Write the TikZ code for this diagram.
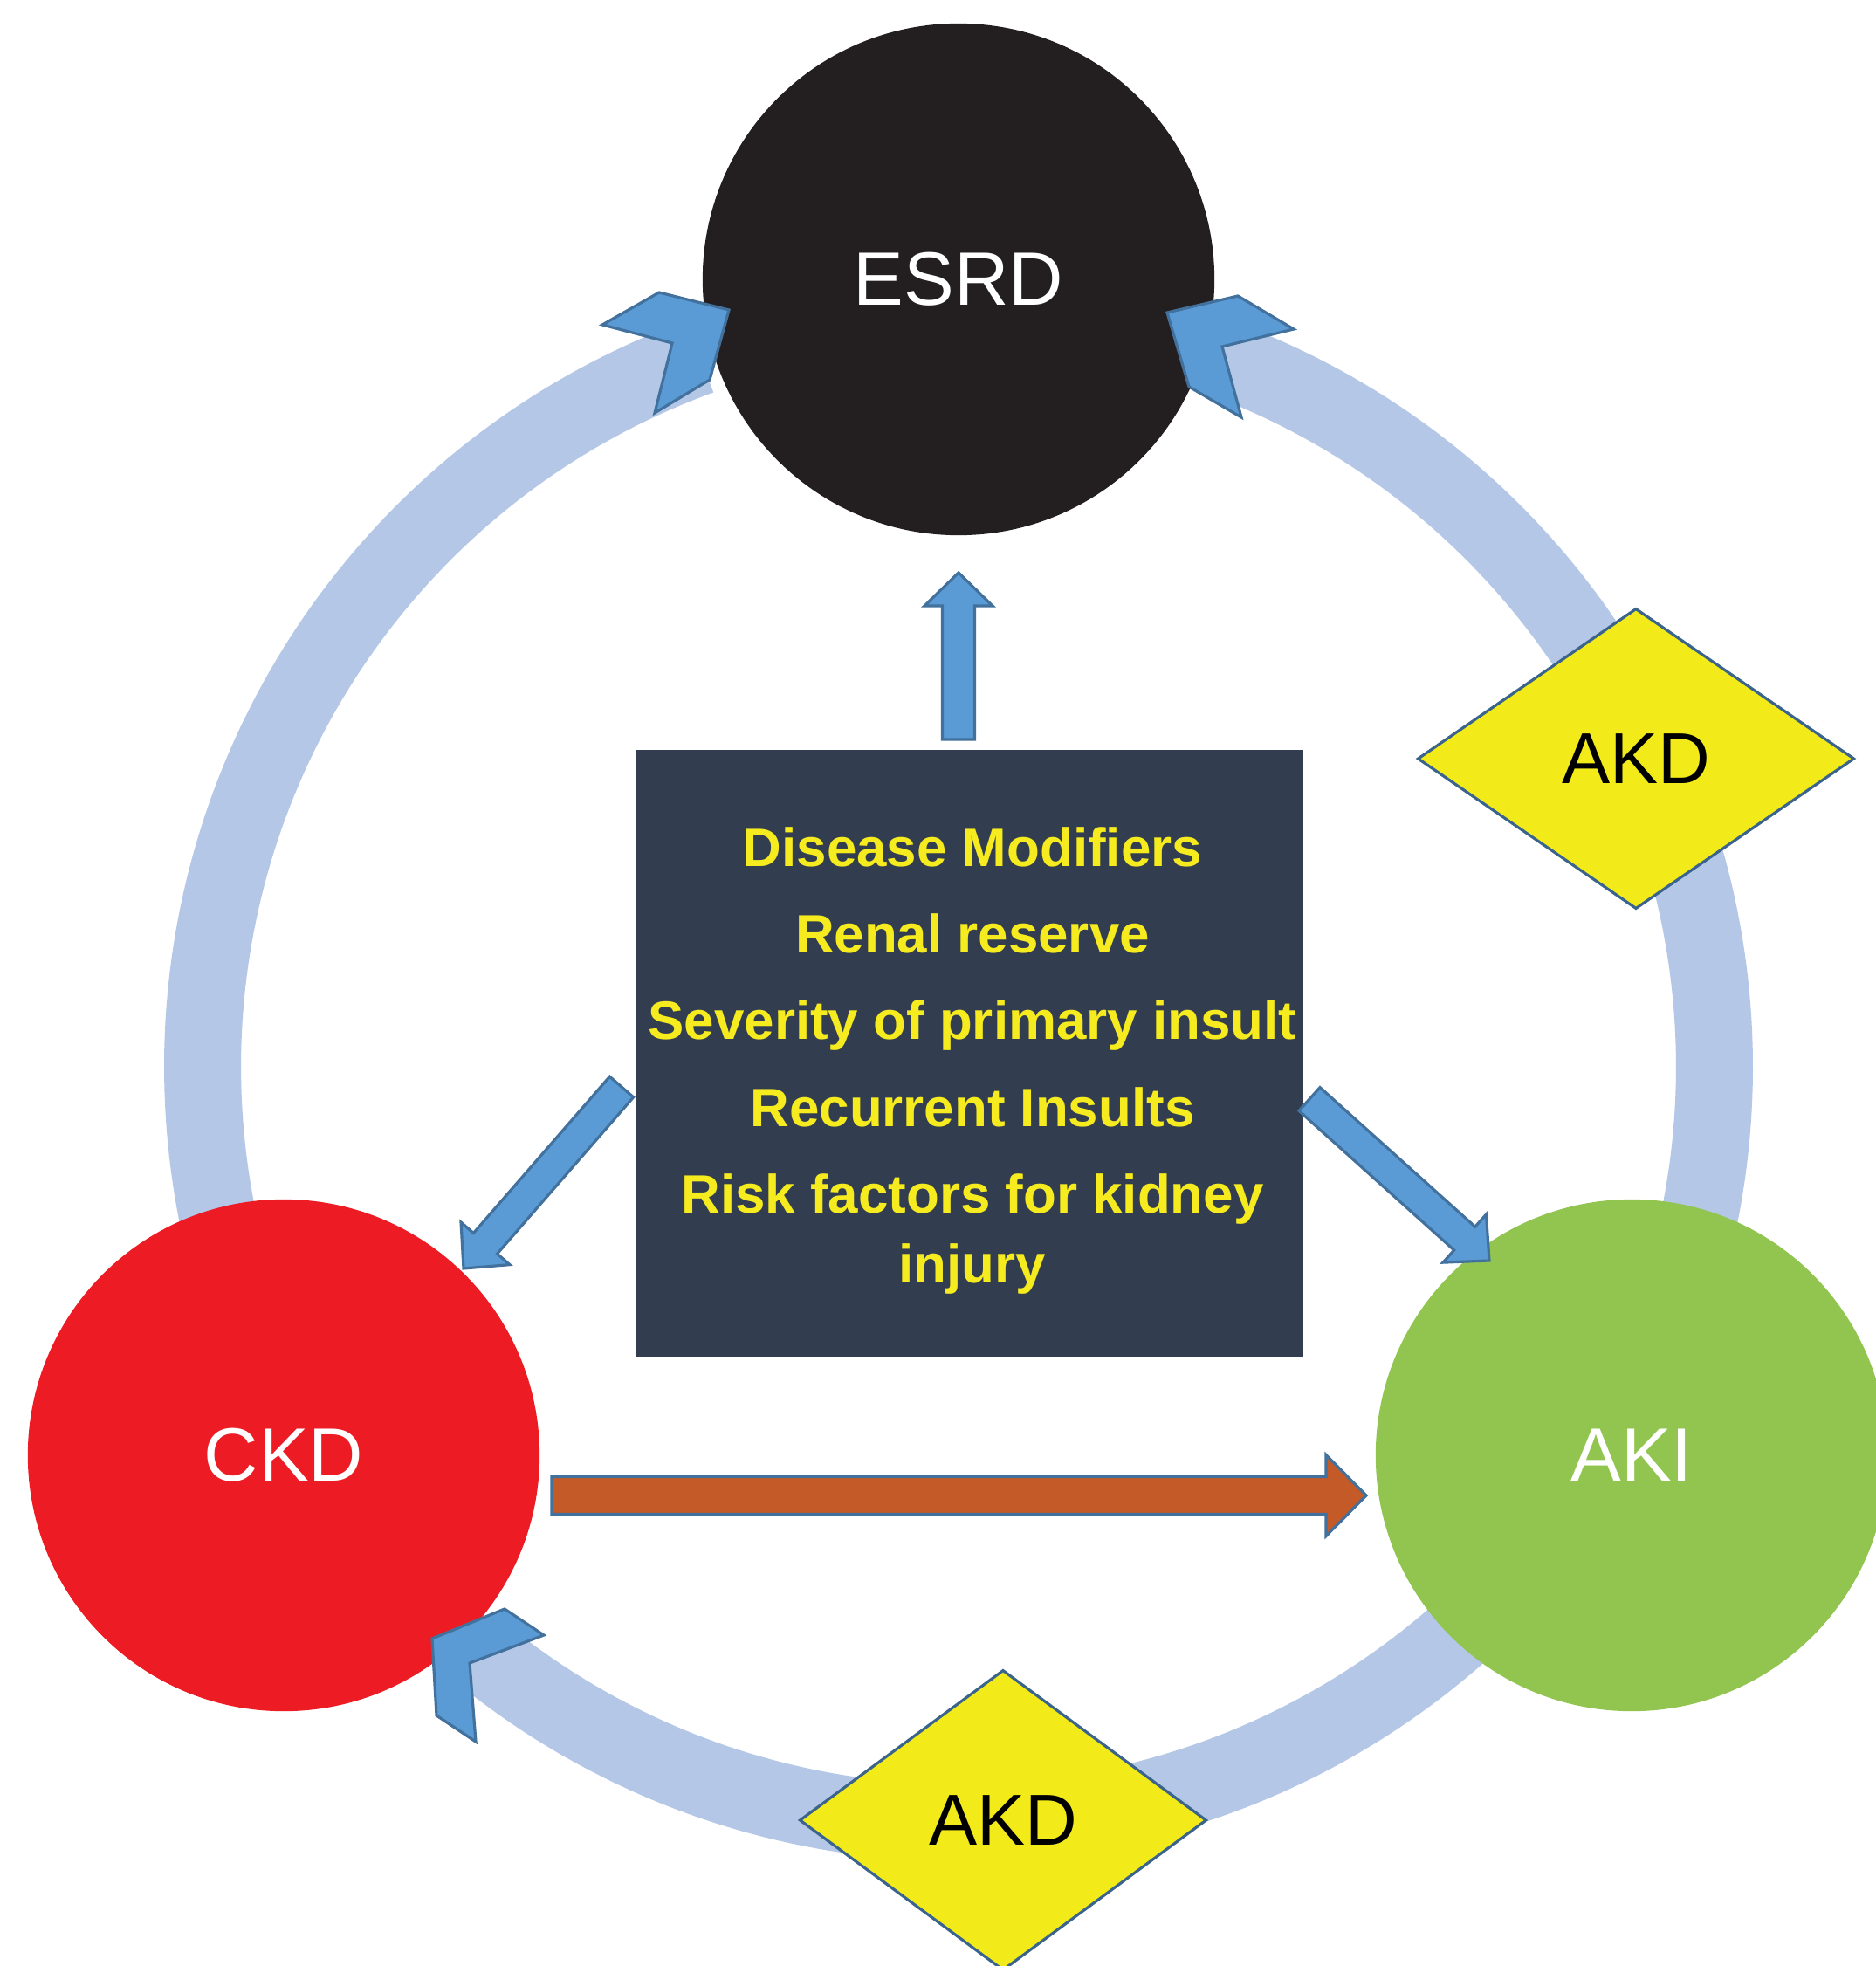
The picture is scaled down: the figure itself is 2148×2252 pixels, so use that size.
\documentclass[tikz,border=0pt]{standalone}
\usepackage{fontspec}
\setmainfont{Liberation Sans}
\usetikzlibrary{calc,shapes.geometric}
\definecolor{ringblue}{RGB}{180,199,231}
\definecolor{headblue}{RGB}{91,155,213}
\definecolor{edgeblue}{RGB}{65,113,156}
\definecolor{esrdblack}{RGB}{35,31,32}
\definecolor{ckdred}{RGB}{237,28,36}
\definecolor{akigreen}{RGB}{146,197,80}
\definecolor{boxslate}{RGB}{50,61,79}
\definecolor{txtyellow}{RGB}{245,235,30}
\definecolor{akdyellow}{RGB}{242,235,25}
\definecolor{akdedge}{RGB}{58,100,140}
\definecolor{arrowbrown}{RGB}{196,90,40}
% block arrow: #1 style, #2 tail, #3 tip, #4 shaft half width, #5 head half width, #6 head length
\newcommand\blkarrow[6]{%
  \coordinate (bkH) at ($(#3)!#6!(#2)$);
  \draw[#1] ($(#2)!#4!90:(#3)$) -- ($(bkH)!#4!-90:(#2)$) -- ($(bkH)!#5!-90:(#2)$) -- (#3)
    -- ($(bkH)!#5!90:(#2)$) -- ($(bkH)!#4!90:(#2)$) -- ($(#2)!#4!-90:(#3)$) -- cycle;}
\begin{document}
\begin{tikzpicture}[x={(0.01cm,0)}, y={(0,-0.01cm)},
  stage/.style={circle, inner sep=0pt, minimum size=5.86cm, text=white,
    font=\fontsize{24.6pt}{29pt}\selectfont},
  akd/.style={diamond, draw=akdedge, line width=0.9pt, fill=akdyellow, inner sep=0pt,
    font=\fontsize{23.5pt}{28pt}\selectfont},
  ringarc/.style={draw=ringblue, line width=0.88cm},
  chevhead/.style={fill=headblue, draw=edgeblue, line width=0.9pt, line join=miter},
  bluearrow/.style={fill=headblue, draw=edgeblue, line width=0.9pt},
  brownarrow/.style={fill=arrowbrown, draw=edgeblue, line width=0.9pt}]
\useasboundingbox (0,0) rectangle (2148,2252);
\fill[white] (0,0) rectangle (2148,2252);

% ring arcs
\draw[ringarc] plot[domain=165:250, samples=90] ({1098+866*cos(\x)},{1222+866*sin(\x)});
\draw[ringarc] plot[domain=15:-72, samples=90] ({1098+866*cos(\x)},{1222+866*sin(\x)});
\draw[ringarc] plot[domain=45:130, samples=90] ({1098+866*cos(\x)},{1222+866*sin(\x)});

% stages
\node[stage, fill=esrdblack] (esrd) at (1098,320) {ESRD};
\node[stage, fill=ckdred] (ckd) at (325,1667) {CKD};
\node[stage, fill=akigreen] (aki) at (1869,1667) {AKI};

% chevron heads of the ring arrows
\draw[chevhead] (690,372) -- (755,335) -- (835,355) -- (813,435) -- (750,473) -- (770,393) -- cycle;
\draw[chevhead] (1482,377) -- (1418,339) -- (1337,358) -- (1362,443) -- (1422,478) -- (1400,397) -- cycle;
\draw[chevhead] (623,1873) -- (578,1843) -- (495,1877) -- (500,1965) -- (545,1995) -- (538,1905) -- cycle;

% central box
\node[rectangle, fill=boxslate, minimum width=7.64cm, minimum height=6.95cm, inner sep=0pt] (modbox) at (1111,1206.5) {};
\node[text=txtyellow, align=center, inner sep=0pt,
  font=\bfseries\fontsize{17.6pt}{22.8pt}\selectfont] (factors) at (1114,1215)
  {Disease Modifiers\\[5.4pt]Renal reserve\\[5.4pt]Severity of primary insult\\[5.4pt]Recurrent Insults\\[5.4pt]Risk factors for kidney\\injury};

% straight arrows
\coordinate (upT) at (1098,847);
\coordinate (upH) at (1098,656);
\blkarrow{bluearrow}{upT}{upH}{0.185cm}{0.39cm}{0.38cm}
\coordinate (ldT) at (712,1245);
\coordinate (ldH) at (531,1453);
\blkarrow{bluearrow}{ldT}{ldH}{0.18cm}{0.37cm}{0.38cm}
\coordinate (rdT) at (1500,1259);
\coordinate (rdH) at (1706,1444);
\blkarrow{bluearrow}{rdT}{rdH}{0.18cm}{0.37cm}{0.38cm}
\coordinate (brT) at (632,1713);
\coordinate (brH) at (1565,1713);
\blkarrow{brownarrow}{brT}{brH}{0.215cm}{0.465cm}{0.46cm}

% AKD diamonds
\node[akd, minimum width=5.0cm, minimum height=3.44cm] (akdR) at (1874,869) {AKD};
\node[akd, minimum width=4.66cm, minimum height=3.44cm] (akdB) at (1149,2085) {AKD};
\end{tikzpicture}
\end{document}
